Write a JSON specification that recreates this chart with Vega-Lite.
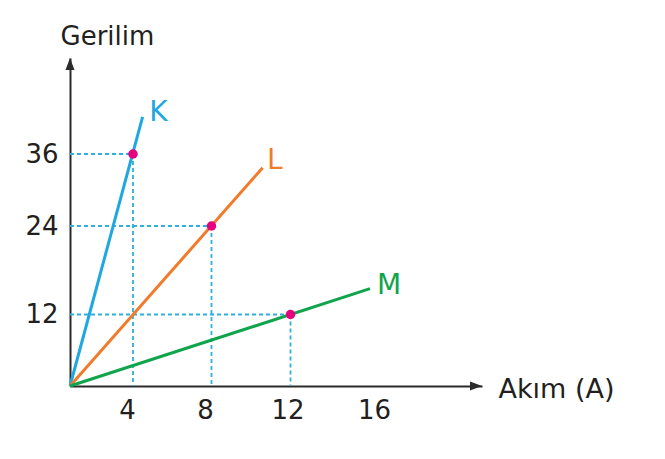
{
  "$schema": "https://vega.github.io/schema/vega-lite/v6.json",
  "width": 412,
  "height": 328,
  "autosize": {"type": "none"},
  "padding": {"left": 70, "top": 58, "right": 183, "bottom": 73},
  "background": "white",
  "config": {"view": {"stroke": null}, "font": "DejaVu Sans"},
  "datasets": {
    "lines": [
      {"series": "K", "x": 0, "y": 0}, {"series": "K", "x": 4.49, "y": 42.2},
      {"series": "L", "x": 0, "y": 0}, {"series": "L", "x": 10.59, "y": 33.7},
      {"series": "M", "x": 0, "y": 0}, {"series": "M", "x": 16, "y": 15.5}
    ],
    "dash": [
      {"x": 0, "y": 36, "x2": 4, "y2": 36},
      {"x": 4, "y": 36, "x2": 4, "y2": 0},
      {"x": 0, "y": 24, "x2": 8, "y2": 24},
      {"x": 8, "y": 24, "x2": 8, "y2": 0},
      {"x": 0, "y": 12, "x2": 12, "y2": 12},
      {"x": 12, "y": 12, "x2": 12, "y2": 0}
    ],
    "pts": [
      {"series": "K", "x": 4, "y": 36},
      {"series": "L", "x": 8, "y": 24},
      {"series": "M", "x": 12, "y": 12}
    ],
    "labels": [
      {"series": "K", "x": 5.3, "y": 42.9},
      {"series": "L", "x": 11.2, "y": 34.9},
      {"series": "M", "x": 16.95, "y": 15.8}
    ],
    "arrowUp": [{"x": 0, "y": 52}],
    "arrowRight": [{"x": 21.6, "y": 0}]
  },
  "encoding": {
    "x": {
      "field": "x",
      "type": "quantitative",
      "scale": {"domain": [0, 4, 8, 12, 16, 21.6], "range": [0, 63, 141.5, 220.5, 300, 412], "nice": false, "zero": false},
      "axis": {
        "title": "Akım (A)",
        "values": [4, 8, 12, 16],
        "ticks": false,
        "tickSize": 0,
        "grid": false,
        "domainColor": "#2b2b2b",
        "domainWidth": 2,
        "labelFont": "DejaVu Sans",
        "labelFontSize": 26,
        "labelColor": "#231f20",
        "labelPadding": 11,
        "labelFlush": false,
        "labelOverlap": false,
        "labelOffset": {
          "condition": [
            {"test": "datum.value == 4", "value": -6},
            {"test": "datum.value == 8", "value": -6.5},
            {"test": "datum.value == 12", "value": -3},
            {"test": "datum.value == 16", "value": 4}
          ],
          "value": 0
        },
        "titleFont": "DejaVu Sans",
        "titleFontSize": 27,
        "titleFontWeight": "normal",
        "titleColor": "#231f20",
        "titleX": 428,
        "titleY": 11,
        "titleAlign": "left",
        "titleBaseline": "alphabetic",
        "titleAnchor": null
      }
    },
    "y": {
      "field": "y",
      "type": "quantitative",
      "scale": {"domain": [0, 12, 24, 36, 52], "range": [328, 256.5, 168, 96, 0], "nice": false, "zero": false},
      "axis": {
        "title": "Gerilim",
        "values": [12, 24, 36],
        "ticks": false,
        "tickSize": 0,
        "grid": false,
        "domainColor": "#2b2b2b",
        "domainWidth": 2,
        "labelFont": "DejaVu Sans",
        "labelFontSize": 26,
        "labelColor": "#231f20",
        "labelPadding": 12,
        "labelFlush": false,
        "labelOverlap": false,
        "titleFont": "DejaVu Sans",
        "titleFontSize": 26,
        "titleFontWeight": "normal",
        "titleColor": "#231f20",
        "titleAngle": 0,
        "titleX": -10,
        "titleY": -14,
        "titleAlign": "left",
        "titleBaseline": "alphabetic",
        "titleAnchor": null
      }
    }
  },
  "layer": [
    {
      "data": {"name": "dash"},
      "mark": {"type": "rule", "color": "#2eb0d8", "strokeWidth": 1.8, "strokeDash": [4, 3]},
      "encoding": {"x2": {"field": "x2"}, "y2": {"field": "y2"}}
    },
    {
      "data": {"name": "lines"},
      "mark": {"type": "line", "strokeWidth": 3},
      "encoding": {
        "detail": {"field": "series"},
        "color": {"field": "series", "type": "nominal", "scale": {"domain": ["K", "L", "M"], "range": ["#1ea7e1", "#f07c2b", "#10a44c"]}, "legend": null}
      }
    },
    {
      "data": {"name": "pts"},
      "mark": {"type": "point", "filled": true, "color": "#e5007d", "size": 90, "opacity": 1}
    },
    {
      "data": {"name": "labels"},
      "mark": {"type": "text", "font": "DejaVu Sans", "fontSize": 28, "align": "center", "baseline": "middle"},
      "encoding": {
        "text": {"field": "series"},
        "color": {"field": "series", "type": "nominal", "scale": {"domain": ["K", "L", "M"], "range": ["#1ea7e1", "#f07c2b", "#10a44c"]}, "legend": null}
      }
    },
    {
      "data": {"name": "arrowUp"},
      "mark": {"type": "point", "filled": true, "color": "#2b2b2b", "opacity": 1, "size": 100, "shape": "M0,0L-0.9,2.4L0.9,2.4Z"}
    },
    {
      "data": {"name": "arrowRight"},
      "mark": {"type": "point", "filled": true, "color": "#2b2b2b", "opacity": 1, "size": 100, "shape": "M0,0L-2.4,-0.9L-2.4,0.9Z"}
    }
  ]
}
